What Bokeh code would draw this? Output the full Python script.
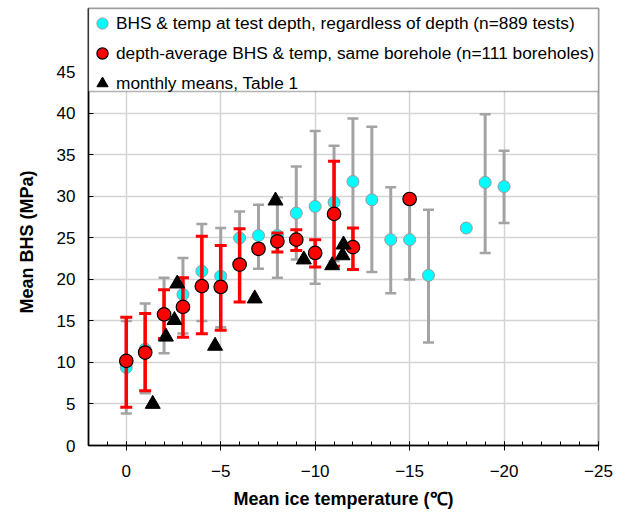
import math
from bokeh.plotting import figure
from bokeh.models import Range1d, FixedTicker, BoxAnnotation, Legend, LegendItem, Title
from bokeh.embed import file_html
from bokeh.resources import INLINE

nan = float("nan")

# BHS & temp at test depth (n=889 tests)
test_temp = [0, -1, -2, -3, -4, -5, -6, -7, -8, -9, -10, -11, -12, -13, -14, -15, -16, -18, -19, -20]
test_bhs = [9.4, 11.6, 15.8, 18.2, 21.0, 20.4, 25.0, 25.3, 25.3, 28.0, 28.8, 29.3, 31.8, 29.6, 24.8, 24.8, 20.5, 26.2, 31.7, 31.2]
test_lo = [3.85, 6.3, 11.1, 13.5, 15.0, 14.25, 21.8, 21.3, 20.2, 22.4, 19.5, 22.2, 24.2, 20.9, 18.35, 20.0, 12.4, nan, 23.2, 26.8]
test_hi = [15.0, 17.1, 20.2, 22.6, 26.7, 26.2, 28.2, 29.0, 29.9, 33.6, 37.9, 36.1, 39.4, 38.4, 31.1, 29.6, 28.4, nan, 39.9, 35.5]

# depth-average BHS & temp, same borehole (n=111 boreholes)
bore_temp = [0, -1, -2, -3, -4, -5, -6, -7, -8, -9, -10, -11, -12, -15]
bore_bhs = [10.2, 11.2, 15.8, 16.7, 19.2, 19.1, 21.8, 23.7, 24.6, 24.8, 23.2, 27.9, 23.9, 29.7]
bore_lo = [4.6, 6.6, 12.9, 13.05, 13.45, 13.9, 17.3, nan, 23.3, 23.5, 21.5, 21.6, 21.2, nan]
bore_hi = [15.45, 15.9, 18.75, 20.2, 25.2, 24.1, 26.1, nan, 25.6, 26.0, 24.8, 34.25, 26.2, nan]

# monthly means, Table 1
month_temp = [-1.4, -2.1, -2.55, -2.7, -4.7, -6.8, -7.9, -9.4, -10.9, -11.45, -11.5]
month_bhs = [5.0, 13.1, 15.1, 19.5, 12.0, 17.7, 29.5, 22.4, 21.7, 22.9, 24.2]

x_ticks = [0, -5, -10, -15, -20, -25]
y_ticks = [0, 5, 10, 15, 20, 25, 30, 35, 40, 45]

FONT = "Liberation Sans"
GRAY = "#a3a3a3"

p = figure(width=626, height=512, output_backend="svg", toolbar_location=None,
           x_range=Range1d(2, -25), y_range=Range1d(0, 52.65),
           min_border_left=87, min_border_right=28, min_border_top=8, min_border_bottom=67)

p.outline_line_color = "#a0a0a0"
p.outline_line_width = 2
p.background_fill_color = "white"

# axes
xa = p.xaxis[0]
xa.ticker = FixedTicker(ticks=x_ticks, minor_ticks=list(range(-25, 3)))
xa.axis_label = "Mean ice temperature (\u2103)"
ya = p.yaxis[0]
ya.ticker = FixedTicker(ticks=y_ticks, minor_ticks=[])
for ax in (xa, ya):
    ax.axis_line_color = "black"
    ax.axis_line_width = 1.5
    ax.major_tick_line_color = "black"
    ax.minor_tick_line_color = "black"
    ax.major_label_text_font = FONT
    ax.major_label_text_font_size = "17px"
    ax.major_label_text_color = "black"
    ax.axis_label_text_font = FONT
    ax.axis_label_text_font_size = "18px"
    ax.axis_label_text_font_style = "bold"
    ax.axis_label_text_color = "black"
xa.major_tick_in = 4
xa.major_tick_out = 5
xa.minor_tick_in = 4
xa.minor_tick_out = 0
xa.major_label_standoff = 14
xa.axis_label_standoff = 9
ya.major_tick_in = 5
ya.major_tick_out = 0
ya.minor_tick_in = 0
ya.minor_tick_out = 0
ya.major_label_standoff = 13

ytitle = Title(text="Mean BHS (MPa)", align="left", offset=132, vertical_align="middle",
               standoff=31, text_font=FONT, text_font_size="18px", text_font_style="bold",
               text_color="black")
p.add_layout(ytitle, "left")

p.xgrid.grid_line_color = "#d4d4d4"
p.ygrid.grid_line_color = "#d4d4d4"
p.xgrid.grid_line_width = 1.5
p.ygrid.grid_line_width = 1.5

# series 1: gray bars + cyan markers
p.segment(x0=test_temp, y0=test_lo, x1=test_temp, y1=test_hi, line_color=GRAY, line_width=3)
p.scatter(x=test_temp, y=test_lo, marker="dash", size=11, line_color=GRAY, line_width=2.5)
p.scatter(x=test_temp, y=test_hi, marker="dash", size=11, line_color=GRAY, line_width=2.5)
r_test = p.scatter(x=test_temp, y=test_bhs, marker="circle", size=12,
                   fill_color="#00ffff", line_color="#9a9a9a", line_width=1)

# series 2: red bars + red markers
p.segment(x0=bore_temp, y0=bore_lo, x1=bore_temp, y1=bore_hi, line_color="#ff0000", line_width=3.5)
p.scatter(x=bore_temp, y=bore_lo, marker="dash", size=12, line_color="#ff0000", line_width=3)
p.scatter(x=bore_temp, y=bore_hi, marker="dash", size=12, line_color="#ff0000", line_width=3)
r_bore = p.scatter(x=bore_temp, y=bore_bhs, marker="circle", size=13.5,
                   fill_color="#ff0000", line_color="black", line_width=1.2)

# series 3: black triangles
r_month = p.scatter(x=month_temp, y=month_bhs, marker="triangle", size=15,
                    fill_color="black", line_color="black")

# legend box across the top of the plot
box = BoxAnnotation(bottom=42.65, fill_color="white", fill_alpha=1.0,
                    line_color="black", line_width=1.5, level="annotation")
p.add_layout(box)

legend = Legend(items=[
    LegendItem(label="BHS & temp at test depth, regardless of depth (n=889 tests)", renderers=[r_test]),
    LegendItem(label="depth-average BHS & temp, same borehole (n=111 boreholes)", renderers=[r_bore]),
    LegendItem(label="monthly means, Table 1", renderers=[r_month]),
], location="top_left")
legend.margin = 0
legend.padding = 0
legend.spacing = -3
legend.glyph_width = 28
legend.glyph_height = 30
legend.label_height = 30
legend.label_standoff = -4
legend.label_text_font = FONT
legend.label_text_font_size = "17.3px"
legend.label_text_color = "black"
legend.border_line_alpha = 0
legend.background_fill_alpha = 0
p.add_layout(legend)

open("out.html", "w").write(file_html(p, INLINE))
